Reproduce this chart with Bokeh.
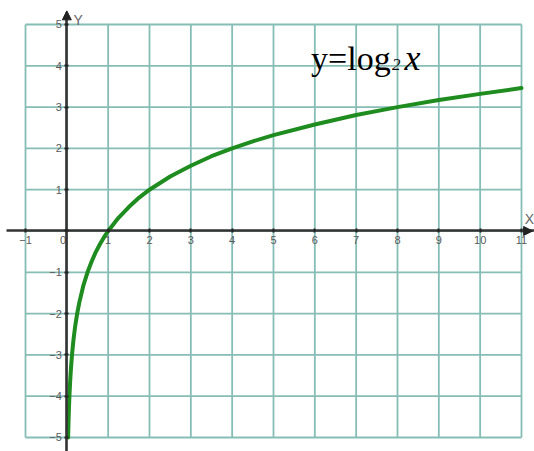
from bokeh.plotting import figure
from bokeh.models import LinearAxis, FixedTicker, Arrow, NormalHead, ColumnDataSource
from bokeh.core.properties import value
from bokeh.embed import file_html
from bokeh.resources import INLINE

# ---- data ----
x_ticks = [-1, 0, 1, 2, 3, 4, 5, 6, 7, 8, 9, 10, 11]
y_ticks = [-5, -4, -3, -2, -1, 0, 1, 2, 3, 4, 5]
curve_x = [0.031, 0.04, 0.05, 0.0625, 0.08, 0.1, 0.125, 0.16, 0.2, 0.25, 0.3, 0.4,
           0.5, 0.6, 0.7, 0.8, 0.9, 1, 1.25, 1.5, 1.75, 2, 2.5, 3, 3.5, 4, 4.5,
           5, 6, 7, 8, 9, 10, 11]
curve_y = [-5.0, -4.64, -4.32, -4.0, -3.64, -3.32, -3.0, -2.64, -2.32, -2.0, -1.74, -1.32,
           -1.0, -0.74, -0.51, -0.32, -0.15, 0.0, 0.32, 0.58, 0.81, 1.0, 1.32, 1.58, 1.81, 2.0, 2.17,
           2.32, 2.58, 2.81, 3.0, 3.17, 3.32, 3.46]
title_parts = ["y=log", "2", "x"]
axis_names = ["X", "Y"]
origin_label = "0"

X_MIN, X_MAX = -1.605, 11.315
Y_MIN, Y_MAX = -5.339, 5.581

p = figure(width=534, height=451, x_range=(X_MIN, X_MAX), y_range=(Y_MIN, Y_MAX),
           output_backend="svg", toolbar_location=None, min_border=0,
           x_axis_type=None, y_axis_type=None)
p.outline_line_color = None
p.xgrid.visible = False
p.ygrid.visible = False
p.background_fill_color = "white"

grid_color = "#86bdb5"
# vertical grid lines
p.segment(x0=x_ticks, y0=[y_ticks[0]] * len(x_ticks), x1=x_ticks, y1=[y_ticks[-1]] * len(x_ticks),
          line_color=grid_color, line_width=1.8)
# horizontal grid lines
p.segment(x0=[x_ticks[0]] * len(y_ticks), y0=y_ticks, x1=[x_ticks[-1]] * len(y_ticks), y1=y_ticks,
          line_color=grid_color, line_width=1.8)

# axes through the origin
label_font = "Liberation Sans"
label_color = "#5a5a5a"
xaxis = LinearAxis(fixed_location=0, ticker=FixedTicker(ticks=x_ticks), bounds=(-1.45, X_MAX))
yaxis = LinearAxis(fixed_location=0, ticker=FixedTicker(ticks=y_ticks), bounds=(Y_MIN, 5.3))
xaxis.major_label_overrides = {0: ""}
yaxis.major_label_overrides = {0: ""}
for ax in (xaxis, yaxis):
    ax.axis_line_color = "#333333"
    ax.axis_line_width = 2.6
    ax.major_tick_line_color = "#222222"
    ax.major_tick_line_width = 2
    ax.major_tick_in = 2
    ax.major_tick_out = 2
    ax.minor_tick_line_color = None
    ax.major_label_text_font = label_font
    ax.major_label_text_font_size = "11px"
    ax.major_label_text_color = label_color
    ax.major_label_standoff = 3
p.add_layout(xaxis, "below")
p.add_layout(yaxis, "left")

# origin label, just left of the y axis
p.text(x=[-0.09], y=[-0.13], text=[origin_label], text_font=value(label_font),
       text_font_size="11px", text_color=label_color, text_align="center", text_baseline="top")

# arrow heads
p.add_layout(Arrow(end=NormalHead(size=9, fill_color="#222222", line_color="#222222"),
                   x_start=0, y_start=5.1, x_end=0, y_end=5.33, line_width=0, line_color=None))
p.add_layout(Arrow(end=NormalHead(size=9, fill_color="#222222", line_color="#222222"),
                   x_start=11.0, y_start=0, x_end=11.27, y_end=0, line_width=0, line_color=None))

# axis names
p.text(x=[11.08], y=[0.3], text=[axis_names[0]], text_font=value(label_font),
       text_font_size="14px", text_color="#666666", text_align="left", text_baseline="alphabetic")
p.text(x=[0.16], y=[5.12], text=[axis_names[1]], text_font=value(label_font),
       text_font_size="14px", text_color="#666666", text_align="left", text_baseline="alphabetic")

# curve
src = ColumnDataSource(dict(x=curve_x, y=curve_y))
p.line("x", "y", source=src, line_color="#1f8c1f", line_width=4, line_join="round", line_cap="round")

# formula label
serif = "Liberation Serif"
p.text(x=[5.91], y=[4.18], text=[title_parts[0]], text_font=value(serif), text_font_size="34px",
       text_color="black", text_baseline="alphabetic")
p.text(x=[7.87], y=[4.04], text=[title_parts[1]], text_font=value(serif), text_font_size="17px",
       text_font_style="italic", text_color="black", text_baseline="alphabetic")
p.text(x=[8.17], y=[4.2], text=[title_parts[2]], text_font=value(serif), text_font_size="36px",
       text_font_style="italic", text_color="black", text_baseline="alphabetic")

open("out.html", "w").write(file_html(p, INLINE))
